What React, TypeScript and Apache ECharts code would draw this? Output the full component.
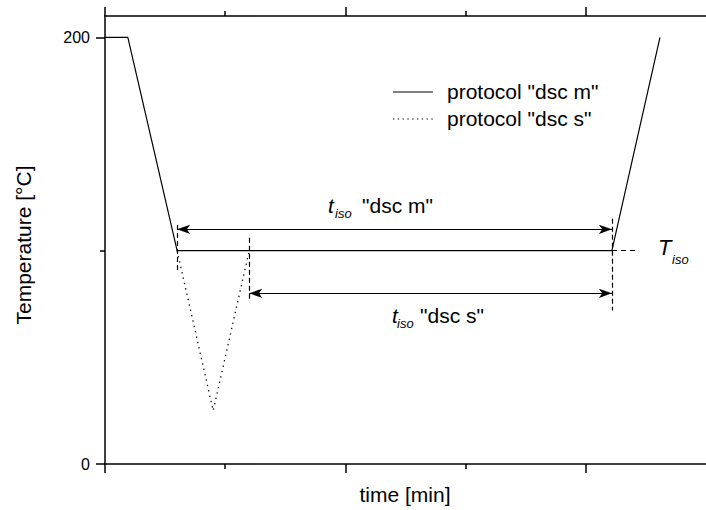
import React, { useEffect, useRef } from "react";
import * as echarts from "echarts";

// protocol "dsc m" (solid)
const mTime = [0, 0.19, 0.6, 4.217, 4.617];
const mTemp = [200, 200, 100, 100, 200];
// protocol "dsc s" (dotted)
const sTime = [0.6, 0.9, 1.2];
const sTemp = [100, 25, 100];

// axis ticks
const xMajor = [0, 2, 4];
const xMinor = [1, 3];
const yMajor = [0, 200];
const yMinor = [100];

// annotation guides: [x, yFrom, yTo]
const guideV = [
  [0.6, 112, 90],
  [1.2, 106, 76],
  [4.217, 115, 72],
];
// arrows: [xFrom, xTo, y]
const arrowsH = [
  [0.6, 4.217, 110],
  [1.2, 4.217, 80],
];
// T_iso dashed extension: [xFrom, xTo, y]
const isoExt = [4.217, 4.43, 100];

const FONT = "Liberation Sans, Arial, Helvetica, sans-serif";

export default function App() {
  const ref = useRef<HTMLDivElement>(null);
  useEffect(() => {
    document.body.style.margin = "0";
    const chart = echarts.init(ref.current!, null, { renderer: "svg" });
    const axisLine = { color: "#000", width: 1.5 };
    const tickStyle = { color: "#000", width: 1.5 };
    const baseX = {
      type: "value",
      min: 0,
      max: 5,
      axisLabel: { show: false },
      splitLine: { show: false },
    };
    const baseY = {
      type: "value",
      min: 0,
      max: 210,
      splitLine: { show: false },
    };
    const dashStyle = { color: "#000", width: 1.2, type: [5, 3] };
    const markData: any[] = [];
    guideV.forEach(([x, a, b]) => {
      markData.push([
        { coord: [x, a], symbol: "none", lineStyle: dashStyle },
        { coord: [x, b], symbol: "none" },
      ]);
    });
    arrowsH.forEach(([a, b, y]) => {
      markData.push([
        {
          coord: [a, y],
          symbol: "arrow",
          lineStyle: { color: "#000", width: 1.2, type: "solid" },
        },
        { coord: [b, y], symbol: "arrow" },
      ]);
    });
    markData.push([
      {
        coord: [isoExt[0], isoExt[2]],
        symbol: "none",
        lineStyle: { color: "#000", width: 1.2, type: [5, 4] },
      },
      { coord: [isoExt[1], isoExt[2]], symbol: "none" },
    ]);

    const txt = (
      x: number,
      y: number,
      text: string,
      size: number,
      italic = false,
      extra: any = {}
    ) => ({
      type: "text",
      x,
      y,
      ...extra,
      style: {
        text,
        fill: "#000",
        font: `${italic ? "italic " : ""}${size}px ${FONT}`,
        align: extra.align || "left",
        verticalAlign: "middle",
      },
    });

    chart.setOption({
      animation: false,
      grid: {
        left: 105,
        right: 0,
        top: 16,
        bottom: 46,
        containLabel: false,
        outerBoundsMode: "none",
      },
      xAxis: [
        {
          ...baseX,
          position: "bottom",
          axisLine: { show: true, onZero: false, lineStyle: axisLine },
          axisTick: { show: true, customValues: xMajor, length: 9, lineStyle: tickStyle },
        },
        {
          ...baseX,
          position: "bottom",
          axisLine: { show: false, onZero: false },
          axisTick: { show: true, customValues: xMinor, length: 5, lineStyle: tickStyle },
        },
        {
          ...baseX,
          position: "top",
          axisLine: { show: true, onZero: false, lineStyle: axisLine },
          axisTick: { show: true, customValues: xMajor, length: 9, lineStyle: tickStyle },
        },
        {
          ...baseX,
          position: "top",
          axisLine: { show: false, onZero: false },
          axisTick: { show: true, customValues: xMinor, length: 5, lineStyle: tickStyle },
        },
      ],
      yAxis: [
        {
          ...baseY,
          position: "left",
          axisLine: { show: true, onZero: false, lineStyle: axisLine },
          axisTick: { show: true, customValues: yMajor, length: 9, lineStyle: tickStyle },
          axisLabel: {
            show: true,
            customValues: yMajor,
            color: "#000",
            fontSize: 16,
            fontFamily: FONT,
            margin: 15,
          },
        },
        {
          ...baseY,
          position: "left",
          axisLine: { show: false, onZero: false },
          axisTick: { show: true, customValues: yMinor, length: 5, lineStyle: tickStyle },
          axisLabel: { show: false },
        },
      ],
      series: [
        {
          type: "line",
          name: 'protocol "dsc m"',
          xAxisIndex: 0,
          yAxisIndex: 0,
          data: mTime.map((t, i) => [t, mTemp[i]]),
          symbol: "none",
          lineStyle: { color: "#000", width: 1.2 },
          markLine: {
            silent: true,
            animation: false,
            symbolSize: [7, 13],
            label: { show: false },
            data: markData,
          },
        },
        {
          type: "line",
          name: 'protocol "dsc s"',
          xAxisIndex: 0,
          yAxisIndex: 0,
          data: sTime.map((t, i) => [t, sTemp[i]]),
          symbol: "none",
          lineStyle: { color: "#000", width: 1.3, type: [1.3, 4.2] },
        },
      ],
      graphic: [
        // legend
        {
          type: "line",
          shape: { x1: 393, y1: 92, x2: 433, y2: 92 },
          style: { stroke: "#000", lineWidth: 1.2 },
        },
        txt(447, 91, 'protocol "dsc m"', 21),
        {
          type: "line",
          shape: { x1: 393, y1: 119, x2: 433, y2: 119 },
          style: { stroke: "#000", lineWidth: 1.2, lineDash: [1.3, 3.5] },
        },
        txt(447, 118, 'protocol "dsc s"', 21),
        // t_iso "dsc m"
        txt(328, 205, "t", 21, true),
        txt(335, 213.5, "iso", 13, true),
        txt(362, 205, '"dsc m"', 21),
        // t_iso "dsc s"
        txt(392, 315, "t", 21, true),
        txt(397, 323.5, "iso", 13, true),
        txt(420, 315, '"dsc s"', 21),
        // T_iso
        txt(658, 247, "T", 22, true),
        txt(672, 259, "iso", 13, true),
        // axis titles
        txt(405, 494, "time [min]", 21, false, { align: "center" }),
        txt(23, 245, "Temperature [°C]", 21, false, {
          align: "center",
          rotation: Math.PI / 2,
        }),
      ],
    });
    return () => chart.dispose();
  }, []);
  return <div ref={ref} style={{ width: 706, height: 510 }} />;
}
